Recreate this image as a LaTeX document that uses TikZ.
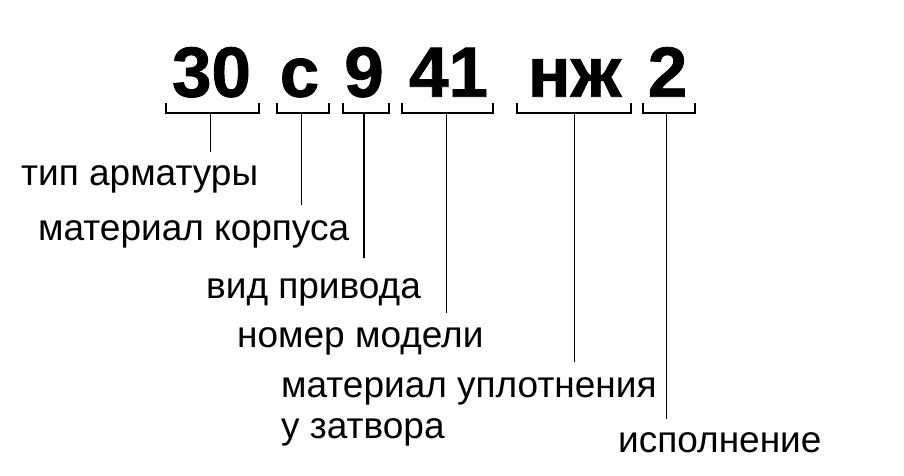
\documentclass[tikz,border=0pt]{standalone}
\usepackage{fontspec}
\setmainfont{Liberation Sans}
\newfontfamily\bigcodefont[FakeBold=1.2]{Liberation Sans Bold}
\begin{document}
\begin{tikzpicture}[x=1pt,y=-1pt,
  big/.style={inner sep=0pt, anchor=base, font=\fontsize{71}{71}\bigcodefont},
  lbl/.style={inner sep=0pt, anchor=base west, font=\fontsize{37}{37}\selectfont},
  brk/.style={line width=1.8pt},
  lead/.style={line width=1.3pt}]
\useasboundingbox[fill=white] (0,0) rectangle (904,476);
% code parts
\node[big] (p1) at (211.5,96.7) {30};
\node[big] (p2) at (299.5,96.7) {с};
\node[big] (p3) at (364,96.7) {9};
\node[big] (p4) at (448.5,96.7) {41};
\node[big] (p5) at (574.5,96.7) {нж};
\node[big] (p6) at (667.5,96.7) {2};
% brackets
\draw[brk] (166,102.7) -- (166,112.7) -- (259,112.7) -- (259,102.7);
\draw[brk] (276.7,102.7) -- (276.7,112.7) -- (329,112.7) -- (329,102.7);
\draw[brk] (342.7,102.7) -- (342.7,112.7) -- (389,112.7) -- (389,102.7);
\draw[brk] (402,102.7) -- (402,112.7) -- (492.7,112.7) -- (492.7,102.7);
\draw[brk] (516.7,102.7) -- (516.7,112.7) -- (630.7,112.7) -- (630.7,102.7);
\draw[brk] (642.7,102.7) -- (642.7,112.7) -- (695,112.7) -- (695,102.7);
% bracket centres and leader ends
\coordinate (b1) at (210.7,112.7);
\coordinate (b2) at (301.7,112.7);
\coordinate (b3) at (364,112.7);
\coordinate (b4) at (446.7,112.7);
\coordinate (b5) at (574.5,112.7);
\coordinate (b6) at (666.7,112.7);
\coordinate (e1) at (210.7,152);
\coordinate (e2) at (301.7,205);
\coordinate (e3) at (364,258);
\coordinate (e4) at (446.7,313);
\coordinate (e5) at (574.5,362);
\coordinate (e6) at (666.7,419);
\draw[lead] (b1) -- (e1);
\draw[lead] (b2) -- (e2);
\draw[lead] (b3) -- (e3);
\draw[lead] (b4) -- (e4);
\draw[lead] (b5) -- (e5);
\draw[lead] (b6) -- (e6);
% labels
\node[lbl] (l1) at (21,185) {тип арматуры};
\node[lbl] (l2) at (38,240) {материал корпуса};
\node[lbl] (l3) at (206,298) {вид привода};
\node[lbl] (l4) at (237,347) {номер модели};
\node[lbl] (l5) at (281,397) {материал уплотнения};
\node[lbl] (l5b) at (281,438) {у затвора};
\node[lbl] (l6) at (618,452) {исполнение};
\end{tikzpicture}
\end{document}
